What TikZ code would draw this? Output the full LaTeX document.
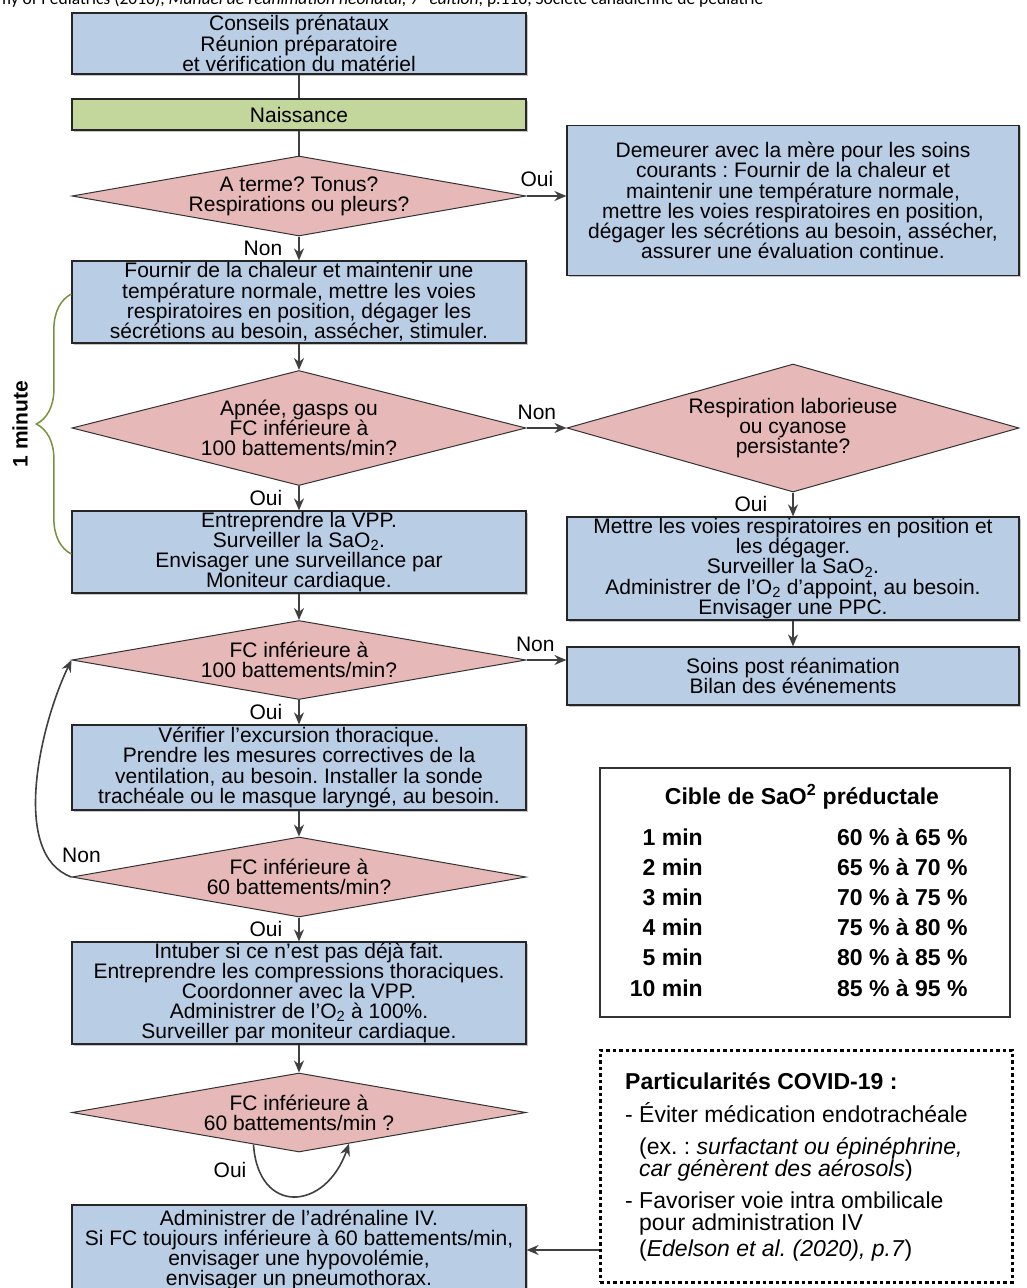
\documentclass[tikz,border=0pt]{standalone}
\usepackage{fontspec}
\setmainfont{Liberation Sans}
\newfontfamily\citefont{Carlito}
\usetikzlibrary{shapes.geometric,arrows.meta,calc,decorations.pathreplacing,shadows}
\frenchspacing

\definecolor{boxblue}{RGB}{185,205,229}
\definecolor{startgreen}{RGB}{195,214,155}
\definecolor{askpink}{RGB}{230,184,183}
\definecolor{bracegreen}{RGB}{119,147,60}
\definecolor{linegray}{RGB}{64,64,64}

\tikzset{
  box/.style={rectangle, draw=black!85, line width=1.2pt, fill=boxblue, minimum width=454pt,
    align=center, inner sep=0pt, drop shadow={shadow xshift=1.5pt, shadow yshift=-1.5pt, fill=black!45}},
  startbox/.style={box, fill=startgreen},
  ask/.style={diamond, draw=black!80, line width=1pt, fill=askpink, minimum width=454pt,
    aspect=5.6, align=center, inner sep=0pt},
  arr/.style={-{Stealth[length=12pt,width=10pt]}, draw=linegray, line width=1.6pt},
  link/.style={draw=linegray, line width=1.6pt},
  lbl/.style={inner sep=1pt},
  tabtxt/.style={inner sep=0pt, font=\bfseries\fontsize{23}{24}\selectfont},
}

\begin{document}
\begin{tikzpicture}[x=1pt, y=-1pt, font=\fontsize{21}{20.2}\selectfont]
  \useasboundingbox (0,0) rectangle (1026,1288);
  \fill[white] (0,0) rectangle (1026,1288);

  \node[anchor=base west, inner sep=0pt, font=\citefont\fontsize{17.5}{18}\selectfont] (source) at (-3,4.5)
    {\llap{American Acade}my of Pediatrics (2016), \textit{Manuel de réanimation néonatal, 7\textsuperscript{e} édition}, p.116, Société canadienne de pédiatrie};

  % colonne de gauche
  \node[box, minimum height=61pt] (conseils) at (299,43.5) {Conseils prénataux\\Réunion préparatoire\\et vérification du matériel};
  \node[startbox, minimum height=31pt] (naissance) at (299,114.5) {Naissance};
  \node[ask, minimum height=80pt] (q1) at (299,196) {A terme? Tonus?\\Respirations ou pleurs?};
  \node[box, minimum height=82pt] (fournir) at (299,302) {Fournir de la chaleur et maintenir une\\température normale, mettre les voies\\respiratoires en position, dégager les\\sécrétions au besoin, assécher, stimuler.};
  \node[ask, aspect=3.9, minimum height=115pt] (q2) at (299,428) {Apnée, gasps ou\\FC inférieure à\\100 battements/min?};
  \node[box, minimum height=82pt] (vpp) at (299,552) {Entreprendre la VPP.\\Surveiller la SaO\textsubscript{2}.\\Envisager une surveillance par\\Moniteur cardiaque.};
  \node[ask, minimum height=79pt] (q4) at (299,660) {FC inférieure à\\100 battements/min?};
  \node[box, minimum height=85pt] (excursion) at (299,767.5) {Vérifier l’excursion thoracique.\\Prendre les mesures correctives de la\\ventilation, au besoin. Installer la sonde\\trachéale ou le masque laryngé, au besoin.};
  \node[ask, minimum height=80pt] (q5) at (299,877) {FC inférieure à\\60 battements/min?};
  \node[box, minimum height=102pt] (intuber) at (299,993) {Intuber si ce n’est pas déjà fait.\\Entreprendre les compressions thoraciques.\\Coordonner avec la VPP.\\Administrer de l’O\textsubscript{2} à 100\%.\\Surveiller par moniteur cardiaque.};
  \node[ask, minimum height=79pt] (q6) at (299,1112.5) {FC inférieure à\\60 battements/min ?};
  \node[box, minimum height=90pt] (adrenaline) at (299,1250) {Administrer de l’adrénaline IV.\\Si FC toujours inférieure à 60 battements/min,\\envisager une hypovolémie,\\envisager un pneumothorax.};

  % colonne de droite
  \node[box, minimum width=452pt, minimum height=150pt] (demeurer) at (793,200.5) {Demeurer avec la mère pour les soins\\courants : Fournir de la chaleur et\\maintenir une température normale,\\mettre les voies respiratoires en position,\\dégager les sécrétions au besoin, assécher,\\assurer une évaluation continue.};
  \node[ask, aspect=3.5, minimum width=452pt, minimum height=128pt] (q3) at (793,428) {Respiration laborieuse\\ou cyanose\\persistante?};
  \node[box, minimum width=452pt, minimum height=103pt] (voies) at (793,568.5) {Mettre les voies respiratoires en position et\\les dégager.\\Surveiller la SaO\textsubscript{2}.\\Administrer de l’O\textsubscript{2} d’appoint, au besoin.\\Envisager une PPC.};
  \node[box, minimum width=452pt, minimum height=58pt] (soins) at (793,676) {Soins post réanimation\\Bilan des événements};

  \node[draw=black!80, line width=1.2pt, minimum width=410pt, minimum height=249pt] (cible) at (805,892.5) {};
  \node[tabtxt] (cibletitre) at (802,797) {Cible de SaO\textsuperscript{2} préductale};
  \foreach \yy/\mn/\pc [count=\i] in {837/1 min/60 \% à 65 \%, 867/2 min/65 \% à 70 \%, 897/3 min/70 \% à 75 \%,
      927/4 min/75 \% à 80 \%, 957/5 min/80 \% à 85 \%, 988/10 min/85 \% à 95 \%} {
    \node[tabtxt, anchor=east] (min\i) at (703,\yy) {\mn};
    \node[tabtxt, anchor=west] (pc\i) at (837,\yy) {\pc};
  }

  \node[draw=black, line width=3pt, dash pattern=on 3.5pt off 3pt, minimum width=412pt, minimum height=232pt] (covid) at (806,1166) {};
  \node[anchor=north west, inner sep=0pt, align=left, font=\fontsize{23}{21.5}\selectfont] (covidtxt) at (625,1072)
    {\textbf{Particularités COVID-19 :}\\[11.5pt]- Éviter médication endotrachéale\\[10.5pt]\hspace*{14pt}(ex. : \textit{surfactant ou épinéphrine,}\\\hspace*{14pt}\textit{car génèrent des aérosols})\\[10.5pt]- Favoriser voie intra ombilicale\\[0.5pt]\hspace*{14pt}pour administration IV\\[4.5pt]\hspace*{14pt}(\textit{Edelson et al. (2020), p.7})};

  % liaisons
  \draw[link] (conseils) -- (naissance);
  \draw[link] (naissance) -- (q1);
  \draw[arr] (q1.east) -- node[lbl, above=7pt, pos=0.26] (oui1) {Oui} (q1.east -| demeurer.west);
  \draw[arr] (q1) -- node[lbl, left=15pt] (non1) {Non} (fournir);
  \draw[arr] (fournir) -- (q2);
  \draw[arr] (q2) -- node[lbl, above=7pt, pos=0.26] (non2) {Non} (q3);
  \draw[arr] (q2) -- node[lbl, left=15pt] (oui2) {Oui} (vpp);
  \draw[arr] (q3) -- node[lbl, left=24pt] (oui3) {Oui} (voies);
  \draw[arr] (voies) -- (soins);
  \draw[arr] (vpp) -- (q4);
  \draw[arr] (q4.east) -- node[lbl, above=7pt, pos=0.22] (non3) {Non} (q4.east -| soins.west);
  \draw[arr] (q4) -- node[lbl, left=15pt] (oui4) {Oui} (excursion);
  \draw[arr] (excursion) -- (q5);
  \draw[arr] (q5.west) node[lbl, xshift=10pt, yshift=22pt] (non4) {Non} .. controls (10,855) and (40,725) .. (q4.west);
  \draw[arr] (q5) -- node[lbl, left=15pt] (oui5) {Oui} (intuber);
  \draw[arr] (intuber) -- (q6);
  \draw[arr] ($(q6.south)!0.2!(q6.west)$) .. controls (258,1215) and (325,1212) .. ($(q6.south)!0.22!(q6.east)$);
  \node[lbl] (oui6) at (230,1170) {Oui};
  \draw[arr] (covid.west |- adrenaline.east) -- (adrenaline.east);

  \draw[decorate, decoration={brace, amplitude=35pt}, draw=bracegreen, line width=1.5pt]
    ($(vpp.west)+(0,2)$) -- ($(fournir.west)+(0,-8)$);
  \node[font=\bfseries\fontsize{21}{22}\selectfont, rotate=90] (minute) at (20,424) {1 minute};
\end{tikzpicture}
\end{document}
